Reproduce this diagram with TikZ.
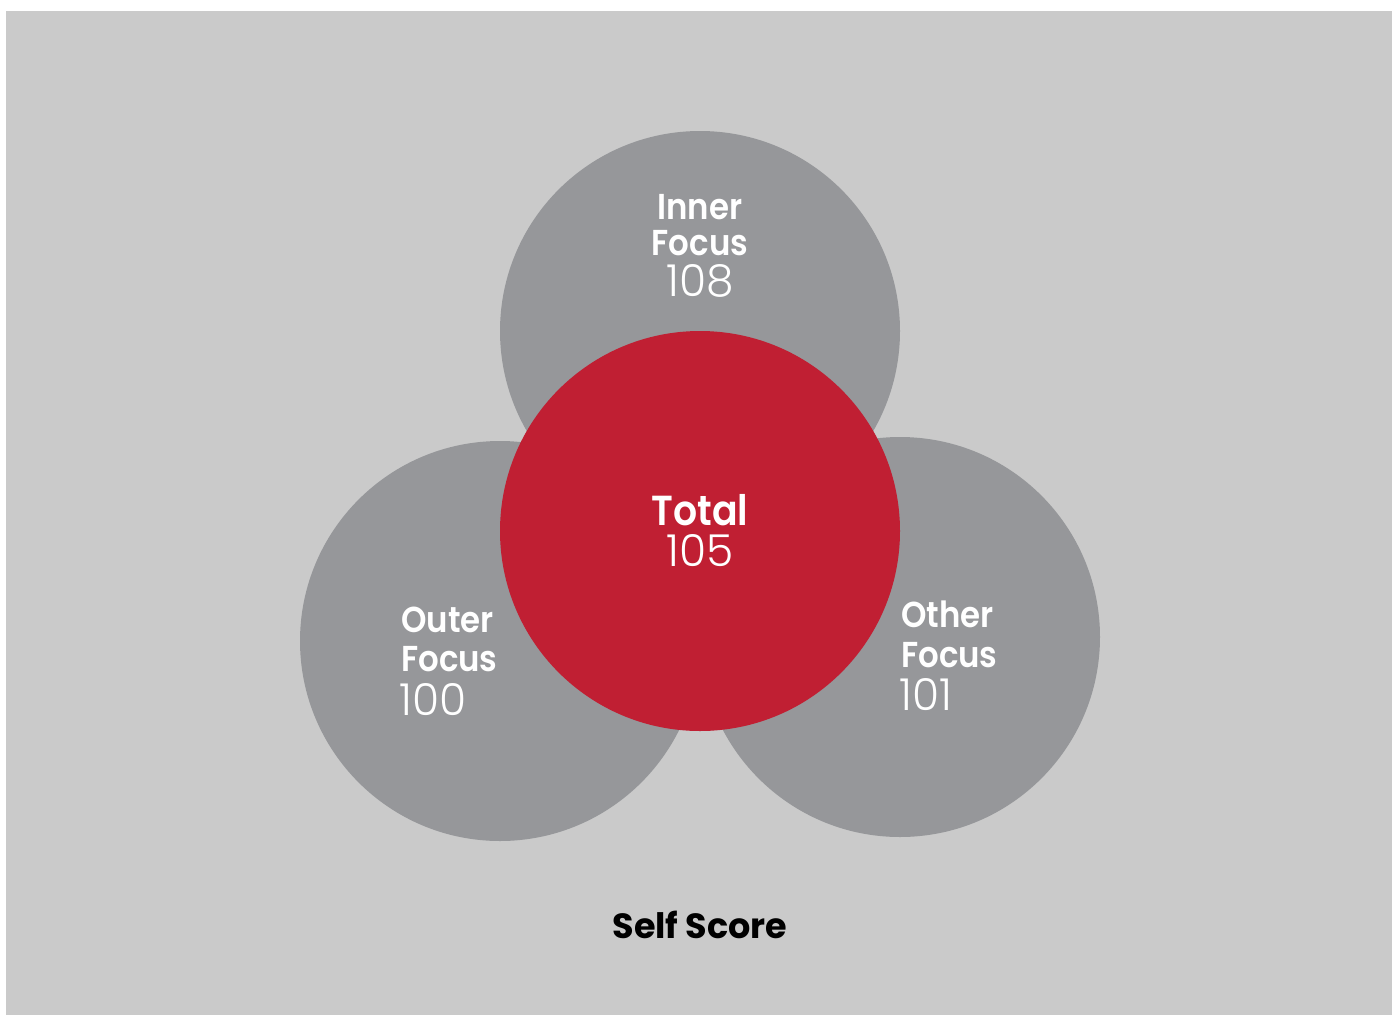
\documentclass[tikz,border=0pt]{standalone}
\usepackage{fontspec}
\setmainfont{Poppins}
\newfontfamily\thinnum{Poppins Light}
\newfontfamily\headfont[FakeStretch=0.9]{Poppins SemiBold}
\definecolor{panelgray}{HTML}{CACACA}
\definecolor{focusgray}{HTML}{96979A}
\definecolor{totalred}{HTML}{C01F33}
\tikzset{
    %Define style for the circles
    focus/.style={
           circle,
           fill=focusgray,
           minimum size=400pt,
           inner sep=0pt},
    total/.style={
           circle,
           fill=totalred,
           minimum size=400pt,
           inner sep=0pt},
    %Define style for the texts
    head/.style={
           text=white,
           inner sep=0pt,
           font=\fontsize{36}{36}\selectfont\headfont},
    bighead/.style={
           head,
           font=\fontsize{42}{42}\selectfont\headfont},
    score/.style={
           text=white,
           inner sep=0pt,
           font=\fontsize{44}{44}\selectfont\thinnum}
}
\begin{document}
\begin{tikzpicture}[x=1pt,y=-1pt]
\useasboundingbox (0,0) rectangle (1398,1015);
\fill[panelgray] (6,11) rectangle (1392,1015);
\node[focus](inner) at (700,331){};
\node[focus](outer) at (500,641){};
\node[focus](other) at (900,637){};
\node[total](total) at (700,531){};
% texts
\node[head,anchor=base](innerA) at (700,219){Inner};
\node[head,anchor=base](innerB) at (700,255){Focus};
\node[score,anchor=base](innerN) at (700,296){108};
\node[bighead,anchor=base](totalA) at (700,525){Total};
\node[score,anchor=base](totalN) at (700,566){105};
\node[head,anchor=base west](outerA) at (401,632){Outer};
\node[head,anchor=base west](outerB) at (401,671){Focus};
\node[score,anchor=base west](outerN) at (399,715){100};
\node[head,anchor=base west](otherA) at (901,627){Other};
\node[head,anchor=base west](otherB) at (901,667){Focus};
\node[score,anchor=base west](otherN) at (899,710){101};
\node[anchor=base,inner sep=0pt,font=\fontsize{35}{35}\selectfont\bfseries](self) at (700,938){Self Score};
\end{tikzpicture}
\end{document}
